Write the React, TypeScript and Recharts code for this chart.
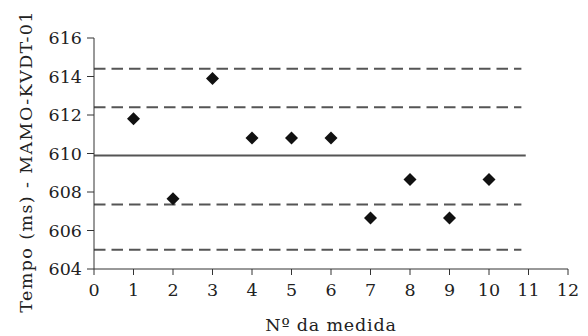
import { ScatterChart, Scatter, XAxis, YAxis, ReferenceLine } from "recharts";

const medidas = [1, 2, 3, 4, 5, 6, 7, 8, 9, 10];
const tempos = [611.8, 607.65, 613.9, 610.8, 610.8, 610.8, 606.65, 608.65, 606.65, 608.65];
const xTicks = [0, 1, 2, 3, 4, 5, 6, 7, 8, 9, 10, 11, 12];
const yTicks = [604, 606, 608, 610, 612, 614, 616];
const mediaLinha = 609.9;
const limitesTracejados = [614.4, 612.4, 607.35, 605.0];
const fimMedia = 10.93;
const fimLimites = 10.82;

const pontos = medidas.map((m, i) => ({ x: m, y: tempos[i] }));

const FONT = "'DejaVu Serif', serif";
const AXIS = "#333";
const FS = 17.5;

function Diamond(props: any) {
  const { cx, cy } = props;
  if (cx == null || cy == null) return null;
  const w = 6.5;
  const h = 6.5;
  return (
    <polygon
      points={`${cx},${cy - h} ${cx + w},${cy} ${cx},${cy + h} ${cx - w},${cy}`}
      fill="#111"
    />
  );
}

export default function App() {
  return (
    <div style={{ width: 588, height: 336, background: "#fff", position: "relative", fontFamily: FONT }}>
      <style>{`body{margin:0}`}</style>
      <ScatterChart width={588} height={336} margin={{ top: 38, right: 20, left: 0, bottom: 0 }}>
        <XAxis
          type="number"
          dataKey="x"
          domain={[0, 12]}
          ticks={xTicks}
          interval={0}
          height={67}
          stroke={AXIS}
          tickSize={6}
          tickMargin={9}
          tick={{ fill: "#222", fontSize: FS, fontFamily: FONT }}
          label={{ value: "Nº da medida", position: "insideBottom", offset: 5, fill: "#222", fontSize: FS, fontFamily: FONT, style: { letterSpacing: 0.8 } }}
        />
        <YAxis
          type="number"
          dataKey="y"
          domain={[604, 616]}
          ticks={yTicks}
          interval={0}
          width={94}
          stroke={AXIS}
          tickSize={7}
          tickMargin={5}
          tick={{ fill: "#222", fontSize: FS, fontFamily: FONT }}
          label={{ value: "Tempo (ms) - MAMO-KVDT-01", angle: -90, position: "insideLeft", offset: 26, dy: 8, style: { textAnchor: "middle", letterSpacing: 1.4 }, fill: "#222", fontSize: FS, fontFamily: FONT }}
        />
        {limitesTracejados.map((v) => (
          <ReferenceLine
            key={v}
            segment={[{ x: 0, y: v }, { x: fimLimites, y: v }]}
            stroke="#555"
            strokeWidth={2}
            strokeDasharray="11.5 6"
          />
        ))}
        <ReferenceLine
          segment={[{ x: 0, y: mediaLinha }, { x: fimMedia, y: mediaLinha }]}
          stroke="#555"
          strokeWidth={2}
        />
        <Scatter data={pontos} shape={<Diamond />} isAnimationActive={false} />
      </ScatterChart>
    </div>
  );
}
